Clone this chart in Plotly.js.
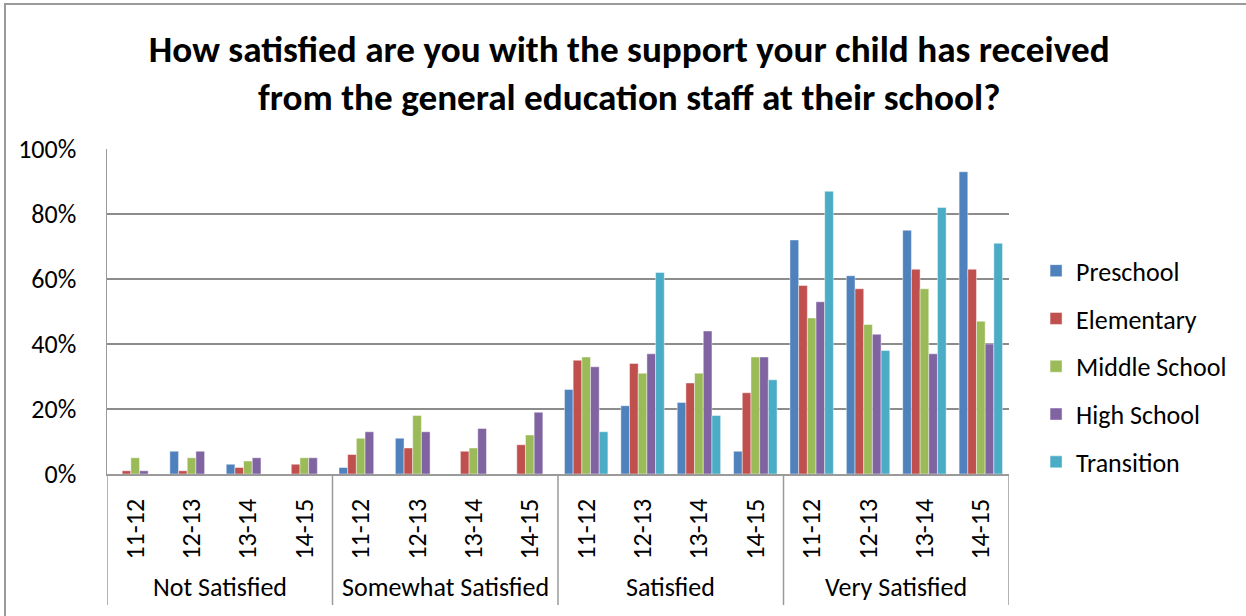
<!DOCTYPE html>
<html>
<head>
<meta charset="utf-8">
<script src="https://cdn.plot.ly/plotly-3.0.1.min.js"></script>
<style>
html,body{margin:0;padding:0;background:#fff;}
#wrap{position:relative;width:1246px;height:616px;}
#chart{width:1246px;height:616px;}
#frame{position:absolute;left:4px;top:3px;width:1250px;height:620px;border-left:2px solid #9a9a9a;border-top:2px solid #9a9a9a;pointer-events:none;}
</style>
</head>
<body>
<div id="wrap"><div id="chart"></div><div id="frame"></div></div>
<script>
const groups = ["Not Satisfied", "Somewhat Satisfied", "Satisfied", "Very Satisfied"];
const years = ["11-12", "12-13", "13-14", "14-15"];
const seriesNames = ["Preschool", "Elementary", "Middle School", "High School", "Transition"];
const colors = ["#4F81BD", "#C0504D", "#9BBB59", "#8064A2", "#4BACC6"];

// values in %, order: Not Sat (4 yrs), Somewhat (4), Satisfied (4), Very (4)
const preschool    = [0, 7, 3, 0,   2, 11, 0, 0,   26, 21, 22, 7,   72, 61, 75, 93];
const elementary   = [1, 1, 2, 3,   6, 8, 7, 9,    35, 34, 28, 25,  58, 57, 63, 63];
const middleSchool = [5, 5, 4, 5,   11, 18, 8, 12, 36, 31, 31, 36,  48, 46, 57, 47];
const highSchool   = [1, 7, 5, 5,   13, 13, 14, 19, 33, 37, 44, 36, 53, 43, 37, 40];
const transition   = [0, 0, 0, 0,   0, 0, 0, 0,    13, 62, 18, 29,  87, 38, 82, 71];

const allSeries = [preschool, elementary, middleSchool, highSchool, transition];
const FONT = "Carlito, Lato, 'Liberation Sans', sans-serif";
const FS = 26;

const xIdx = [];
const xText = [];
groups.forEach((g, gi) => years.forEach((y, yi) => { xIdx.push(gi * years.length + yi); xText.push(y); }));

const traces = allSeries.map((vals, i) => ({
  type: 'bar',
  name: seriesNames[i],
  x: xIdx,
  y: vals.map(v => v / 100),
  marker: {color: colors[i], line: {color: 'rgba(255,255,255,0.55)', width: 0.8}},
  legendgroup: 'g' + i,
  hoverinfo: 'skip'
}));

const shapes = [];
for (let k = 0; k <= groups.length; k++) {
  shapes.push({type: 'line', xref: 'x', yref: 'paper', x0: k * 4 - 0.5, x1: k * 4 - 0.5, y0: 0, y1: -0.403,
    line: {color: '#9a9a9a', width: 1.5}});
}

const annotations = groups.map((g, gi) => ({
  xref: 'x', yref: 'paper', x: gi * 4 + 1.5, y: -0.348, text: g, showarrow: false,
  font: {family: FONT, size: FS, color: '#000'}, xanchor: 'center', yanchor: 'middle'
}));

const layout = {
  width: 1246, height: 616,
  margin: {l: 107, r: 237, t: 149, b: 142},
  paper_bgcolor: '#fff', plot_bgcolor: '#fff',
  barmode: 'group', bargap: 0.23, bargroupgap: 0,
  title: {
    text: 'How satisfied are you with the support your child has received<br>from the general education staff at their school?',
    font: {family: FONT, size: 37.2, color: '#000', weight: 'bold'},
    x: 0.505, xanchor: 'center', y: 0.9, yanchor: 'middle'
  },
  xaxis: {
    range: [-0.5, 15.5], tickmode: 'array', tickvals: xIdx, ticktext: xText, tickangle: -90,
    ticks: 'outside', ticklen: 13, tickcolor: 'rgba(0,0,0,0)',
    tickfont: {family: FONT, size: FS, color: '#000'},
    showgrid: false, showline: true, linecolor: '#9a9a9a', linewidth: 1.5, zeroline: false, fixedrange: true
  },
  yaxis: {
    range: [0, 1], tickvals: [0, 0.2, 0.4, 0.6, 0.8, 1], tickformat: '.0%',
    ticks: 'outside', ticklen: 24, tickcolor: 'rgba(0,0,0,0)',
    tickfont: {family: FONT, size: FS, color: '#000'},
    showgrid: true, gridcolor: '#8c8c8c', gridwidth: 1.5,
    showline: true, linecolor: '#9a9a9a', linewidth: 1.5, zeroline: false, fixedrange: true
  },
  legend: {
    x: 1.03, xanchor: 'left', y: 0.33, yanchor: 'middle',
    font: {family: FONT, size: FS, color: '#000'},
    tracegroupgap: 11, traceorder: 'grouped', bgcolor: 'rgba(0,0,0,0)'
  },
  shapes: shapes,
  annotations: annotations,
  showlegend: true
};

Plotly.newPlot('chart', traces, layout, {displayModeBar: false, staticPlot: true});
</script>
</body>
</html>
